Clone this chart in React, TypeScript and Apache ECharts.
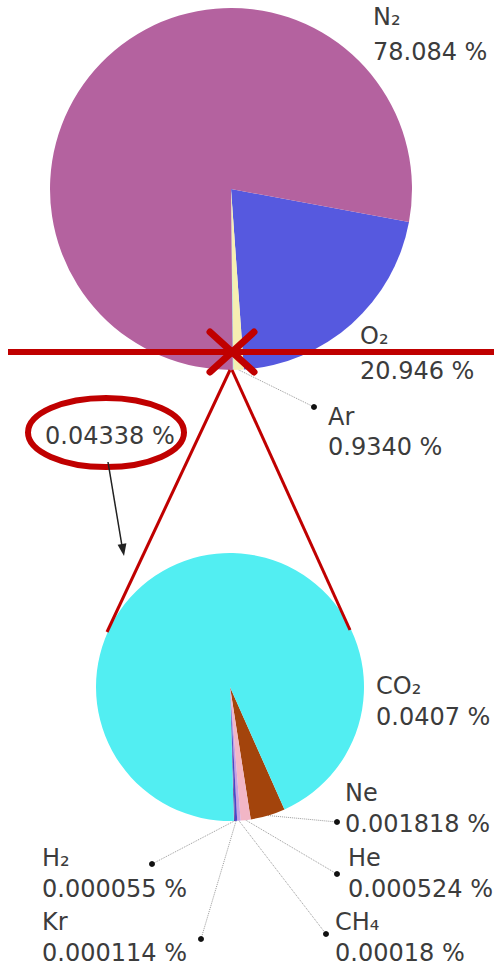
import React, { useEffect, useRef } from 'react';
import * as echarts from 'echarts';

// Main atmosphere composition (top pie), clockwise from the start angle
const mainNames = ['O₂', 'Ar', 'rest', 'N₂'];
const mainValues = [20.946, 0.934, 0.04338, 78.084];
const mainLabels = ['20.946 %', '0.9340 %', '0.04338 %', '78.084 %'];
const mainColors = ['#5659df', '#f6efb2', '#52eef2', '#b4629f'];

// Trace gases (bottom pie), clockwise from the start angle
const traceNames = ['Ne', 'He', 'CH₄', 'Kr', 'H₂', 'CO₂'];
const traceValues = [0.001818, 0.000524, 0.00018, 0.000114, 0.000055, 0.0407];
const traceLabels = ['0.001818 %', '0.000524 %', '0.00018 %', '0.000114 %', '0.000055 %', '0.0407 %'];
const traceColors = ['#a3440c', '#f2b6c6', '#c9a0e0', '#4848c8', '#6a3a9a', '#52eef2'];

type Lay = { x: number; y: number; lh: number; dot?: [number, number]; noName?: boolean };

const mainLayout: Lay[] = [
  { x: 360, y: 318, lh: 35 },
  { x: 328, y: 402, lh: 30, dot: [314, 407] },
  { x: 45, y: 421, lh: 30, noName: true },
  { x: 373, y: -1, lh: 35 },
];
const traceLayout: Lay[] = [
  { x: 345, y: 777, lh: 31, dot: [337, 822] },
  { x: 348, y: 842, lh: 31, dot: [337, 874] },
  { x: 335, y: 906, lh: 31, dot: [326, 934] },
  { x: 42, y: 906, lh: 31, dot: [201, 939] },
  { x: 42, y: 842, lh: 31, dot: [152, 864] },
  { x: 376, y: 670, lh: 31 },
];

const RED = '#c00000';
const TEXT = '#3c3c3c';
const FONT = 'DejaVu Sans';

function buildData(names: string[], values: number[], labels: string[], colors: string[], lay: Lay[]) {
  return names.map((n, i) => ({
    name: n,
    value: values[i],
    itemStyle: { color: colors[i] },
    label: {
      show: true,
      formatter: lay[i].noName ? labels[i] : n + '\n' + labels[i],
      lineHeight: lay[i].lh,
    },
    labelLine: { show: !!lay[i].dot },
  }));
}

export default function App() {
  const ref = useRef<HTMLDivElement>(null);
  useEffect(() => {
    if (!ref.current) return;
    const chart = echarts.init(ref.current, undefined, { renderer: 'svg' });
    const layouts = [mainLayout, traceLayout];
    const labelLayout = (p: any) => {
      const L = layouts[p.seriesIndex][p.dataIndex];
      const out: any = { x: L.x, y: L.y, align: 'left', verticalAlign: 'top' };
      if (L.dot && p.labelLinePoints && p.labelLinePoints[0]) {
        const p0 = p.labelLinePoints[0];
        out.labelLinePoints = [p0, [(p0[0] + L.dot[0]) / 2, (p0[1] + L.dot[1]) / 2], L.dot];
      }
      return out;
    };
    const common = {
      type: 'pie',
      clockwise: true,
      avoidLabelOverlap: false,
      silent: true,
      label: { show: true, color: TEXT, fontFamily: FONT, fontSize: 24, position: 'outside' },
      labelLine: { show: true, length: 6, length2: 6, lineStyle: { color: '#9a9a9a', width: 1, type: 'dotted' } },
      labelLayout,
      emphasis: { disabled: true },
    };
    const dots = [...mainLayout, ...traceLayout]
      .filter((l) => l.dot)
      .map((l) => ({ type: 'circle', z: 100, shape: { cx: l.dot![0], cy: l.dot![1], r: 3 }, style: { fill: '#111' } }));
    chart.setOption({
      animation: false,
      backgroundColor: '#ffffff',
      series: [
        {
          ...common,
          center: [231, 189],
          radius: 181,
          startAngle: -10.5,
          data: buildData(mainNames, mainValues, mainLabels, mainColors, mainLayout),
        },
        {
          ...common,
          center: [230, 687],
          radius: 134,
          startAngle: -66,
          data: buildData(traceNames, traceValues, traceLabels, traceColors, traceLayout),
        },
      ],
      graphic: [
        { type: 'line', z: 100, shape: { x1: 8, y1: 352, x2: 494, y2: 352 }, style: { stroke: RED, lineWidth: 6 } },
        { type: 'line', z: 100, shape: { x1: 210, y1: 332, x2: 254, y2: 372 }, style: { stroke: RED, lineWidth: 7, lineCap: 'round' } },
        { type: 'line', z: 100, shape: { x1: 254, y1: 332, x2: 210, y2: 372 }, style: { stroke: RED, lineWidth: 7, lineCap: 'round' } },
        { type: 'line', z: 100, shape: { x1: 230, y1: 370, x2: 107, y2: 632 }, style: { stroke: RED, lineWidth: 3 } },
        { type: 'line', z: 100, shape: { x1: 232, y1: 370, x2: 350, y2: 630 }, style: { stroke: RED, lineWidth: 3 } },
        { type: 'ellipse', z: 100, shape: { cx: 106, cy: 432.5, rx: 78, ry: 34.5 }, style: { fill: 'none', stroke: RED, lineWidth: 6 } },
        { type: 'line', z: 100, shape: { x1: 108, y1: 462, x2: 122, y2: 546 }, style: { stroke: '#222', lineWidth: 1.5 } },
        { type: 'polygon', z: 100, shape: { points: [[124, 556], [117.6, 544.8], [126.4, 543.2]] }, style: { fill: '#222' } },
        ...dots,
      ],
    } as any);
    return () => chart.dispose();
  }, []);
  return <div ref={ref} style={{ position: 'fixed', left: 0, top: 0, width: 494, height: 967 }} />;
}
